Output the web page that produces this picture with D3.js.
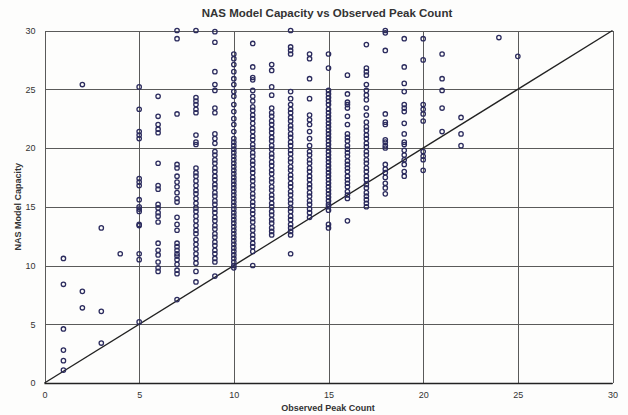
<!DOCTYPE html>
<html><head><meta charset="utf-8">
<script src="https://cdn.jsdelivr.net/npm/d3@7"></script>
<style>
html,body{margin:0;padding:0;background:#fff;}
svg{display:block;}
</style></head>
<body>
<svg id="chart" width="628" height="415"></svg>
<script>
const titleText = "NAS Model Capacity vs Observed Peak Count";
const xLabel = "Observed Peak Count";
const yLabel = "NAS Model Capacity";
const xTicks = [0, 5, 10, 15, 20, 25, 30];
const yTicks = [0, 5, 10, 15, 20, 25, 30];
const peakCounts = [1, 2, 3, 4, 5, 6, 7, 8, 9, 10, 11, 12, 13, 14, 15, 16, 17, 18, 19, 20, 21, 22, 24, 25];
const capacityByCount = [
  [10.6, 8.4, 4.6, 2.8, 1.9, 1.1],
  [25.4, 7.8, 6.4],
  [13.2, 6.1, 3.4],
  [11.0],
  [25.2, 23.3, 21.4, 21.1, 20.8, 17.4, 17.1, 16.8, 15.6, 15.0, 14.8, 14.6, 13.5, 13.4, 11.0, 10.5, 5.2],
  [24.4, 22.7, 22.0, 21.6, 21.3, 18.7, 16.8, 16.5, 15.2, 14.9, 14.5, 14.2, 13.7, 11.9, 11.3, 10.9, 10.3, 9.8, 9.5],
  [30.0, 29.3, 22.9, 18.6, 18.3, 17.6, 17.1, 16.7, 16.2, 15.7, 15.4, 14.1, 13.5, 13.0, 11.9, 11.6, 11.3, 11.0, 10.8, 10.5, 10.1, 9.6, 9.3, 7.1],
  [30.0, 24.3, 24.0, 23.7, 23.3, 23.0, 21.1, 20.5, 20.3, 18.3, 17.9, 17.6, 17.2, 16.8, 16.4, 16.1, 15.7, 15.3, 14.9, 14.6, 14.2, 13.8, 13.4, 13.0, 12.7, 12.2, 11.8, 11.4, 11.0, 10.6, 10.2, 9.5, 8.6],
  [29.9, 29.0, 26.5, 25.4, 24.9, 23.4, 23.0, 21.2, 20.8, 20.4, 19.7, 19.4, 19.0, 18.7, 18.3, 18.0, 17.6, 17.3, 16.9, 16.6, 16.2, 15.9, 15.5, 15.2, 14.8, 14.5, 14.1, 13.8, 13.4, 13.1, 12.7, 12.4, 12.0, 11.7, 11.3, 11.0, 10.6, 10.3, 9.1],
  [28.0, 27.6, 27.1, 26.5, 25.9, 25.4, 24.8, 24.4, 23.7, 23.1, 22.5, 22.0, 21.4, 20.8, 20.5, 20.2, 19.9, 19.6, 19.3, 19.0, 18.7, 18.4, 18.1, 17.8, 17.5, 17.2, 16.9, 16.6, 16.3, 16.0, 15.7, 15.4, 15.1, 14.8, 14.5, 14.2, 13.9, 13.6, 13.3, 13.0, 12.7, 12.4, 12.1, 11.8, 11.5, 11.2, 10.9, 10.6, 10.3, 10.0, 9.8],
  [28.9, 26.9, 26.0, 25.8, 24.9, 24.4, 24.0, 23.5, 23.2, 22.8, 22.5, 22.1, 21.7, 21.4, 21.0, 20.7, 20.3, 20.0, 19.6, 19.3, 18.9, 18.6, 18.2, 17.9, 17.5, 17.2, 16.8, 16.5, 16.1, 15.8, 15.4, 15.1, 14.7, 14.4, 14.0, 13.7, 13.3, 13.0, 12.6, 12.3, 11.9, 11.6, 11.2, 10.0],
  [27.1, 26.6, 25.2, 24.5, 23.4, 23.0, 22.7, 22.3, 22.0, 21.6, 21.3, 20.9, 20.6, 20.2, 19.9, 19.5, 19.2, 18.8, 18.5, 18.1, 17.8, 17.4, 17.1, 16.7, 16.4, 16.0, 15.7, 15.3, 15.0, 14.6, 14.3, 13.9, 13.6, 13.2, 12.9, 12.6],
  [30.0, 28.6, 28.3, 28.0, 24.8, 24.2, 23.7, 23.3, 23.0, 22.6, 22.3, 21.9, 21.6, 21.2, 20.9, 20.5, 20.2, 19.8, 19.5, 19.1, 18.8, 18.4, 18.1, 17.7, 17.4, 17.0, 16.7, 16.3, 16.0, 15.6, 15.3, 14.9, 14.6, 14.2, 13.9, 13.5, 13.2, 12.9, 12.6, 11.0],
  [28.0, 27.6, 25.9, 24.2, 22.8, 22.4, 22.0, 21.4, 20.8, 20.2, 19.7, 19.4, 19.0, 18.7, 18.3, 18.0, 17.6, 17.3, 16.9, 16.6, 16.2, 15.9, 15.5, 15.2, 14.8, 14.5, 14.1],
  [28.0, 26.8, 24.9, 24.6, 24.3, 24.0, 23.7, 23.3, 23.0, 22.7, 22.4, 22.1, 21.8, 21.5, 21.2, 20.9, 20.6, 20.3, 20.0, 19.7, 19.4, 19.1, 18.8, 18.5, 18.2, 17.9, 17.6, 17.3, 17.0, 16.7, 16.4, 16.1, 15.8, 15.5, 15.2, 15.0, 14.7, 13.5, 13.2],
  [26.2, 24.6, 23.9, 23.7, 23.4, 22.7, 22.0, 21.2, 20.9, 20.6, 20.2, 19.9, 19.6, 19.3, 18.9, 18.6, 18.3, 18.0, 17.6, 17.3, 17.0, 16.7, 16.3, 16.0, 15.7, 13.8],
  [28.8, 26.8, 26.5, 26.2, 25.4, 24.9, 24.5, 24.1, 23.4, 22.8, 22.2, 21.8, 21.5, 21.1, 20.8, 20.4, 20.1, 19.7, 19.4, 19.0, 18.7, 18.3, 18.0, 17.6, 17.3, 16.9, 16.6, 16.2, 15.9, 15.6, 15.3, 15.0],
  [30.0, 29.8, 28.3, 22.9, 22.2, 22.0, 20.7, 20.5, 20.2, 20.0, 18.6, 18.2, 17.9, 17.5, 17.0, 16.6, 16.1],
  [29.3, 26.9, 25.5, 24.8, 23.7, 23.4, 23.1, 22.1, 21.2, 20.5, 20.3, 19.8, 19.4, 19.0, 18.6, 18.0, 17.6],
  [29.3, 27.5, 23.7, 23.3, 22.9, 22.3, 19.7, 19.3, 19.0, 18.1],
  [28.0, 25.9, 24.9, 23.4, 21.4],
  [22.6, 21.2, 20.2],
  [29.4],
  [27.8]
];
const referenceLine = [[0, 0], [30, 30]];

const svg = d3.select("#chart");
const plotLeft = 44.5, plotRight = 612.5, plotTop = 30.5, plotBottom = 383;
const x = d3.scaleLinear().domain([0, 30]).range([plotLeft, plotRight]);
const y = d3.scaleLinear().domain([0, 30]).range([plotBottom, plotTop]);
const fontFam = "Liberation Sans, Arial, sans-serif";

svg.append("rect").attr("width", 628).attr("height", 415).attr("fill", "#fdfdfc");

// grid
const grid = svg.append("g").attr("stroke", "#5a5a5a").attr("stroke-width", 1).attr("shape-rendering", "crispEdges");
grid.selectAll("line.gx").data(xTicks).join("line")
  .attr("x1", d => Math.round(x(d)) + 0.5).attr("x2", d => Math.round(x(d)) + 0.5)
  .attr("y1", plotTop).attr("y2", plotBottom);
grid.selectAll("line.gy").data(yTicks).join("line")
  .attr("y1", d => Math.round(y(d)) + 0.5).attr("y2", d => Math.round(y(d)) + 0.5)
  .attr("x1", plotLeft).attr("x2", plotRight);

// bottom axis (darker)
svg.append("line").attr("x1", plotLeft).attr("x2", plotRight)
  .attr("y1", Math.round(y(0)) + 0.5).attr("y2", Math.round(y(0)) + 0.5)
  .attr("stroke", "#222").attr("stroke-width", 1.6);

const xAxis = d3.axisBottom(x).tickValues(xTicks).tickSize(0).tickPadding(9).tickFormat(d3.format("d"));
const gx = svg.append("g").attr("transform", `translate(0,${plotBottom})`).call(xAxis);
gx.select(".domain").remove();
gx.selectAll("text").attr("font-family", fontFam).attr("font-size", 9).attr("fill", "#333");

const yAxis = d3.axisLeft(y).tickValues(yTicks).tickSize(0).tickPadding(9).tickFormat(d3.format("d"));
const gy = svg.append("g").attr("transform", `translate(${plotLeft},0)`).call(yAxis);
gy.select(".domain").remove();
gy.selectAll("text").attr("font-family", fontFam).attr("font-size", 9).attr("fill", "#333");

// diagonal
svg.append("line")
  .attr("x1", x(referenceLine[0][0])).attr("y1", y(referenceLine[0][1]))
  .attr("x2", x(referenceLine[1][0])).attr("y2", y(referenceLine[1][1]))
  .attr("stroke", "#222").attr("stroke-width", 1.4);

// points
const pts = [];
peakCounts.forEach((c, i) => capacityByCount[i].forEach(v => pts.push([c, v])));
svg.append("g").selectAll("circle").data(pts).join("circle")
  .attr("cx", d => x(d[0])).attr("cy", d => y(d[1])).attr("r", 2.2)
  .attr("fill", "none").attr("stroke", "#2c2c5e").attr("stroke-width", 1.3);

// titles
svg.append("text").attr("x", 327).attr("y", 17).attr("text-anchor", "middle")
  .attr("font-family", fontFam).attr("font-size", 11.5).attr("font-weight", "bold")
  .attr("fill", "#333").text(titleText);
svg.append("text").attr("x", 328).attr("y", 411).attr("text-anchor", "middle")
  .attr("font-family", fontFam).attr("font-size", 9).attr("font-weight", "bold")
  .attr("fill", "#333").text(xLabel);
svg.append("text").attr("transform", `translate(21,${(plotTop + plotBottom) / 2}) rotate(-90)`).attr("text-anchor", "middle")
  .attr("font-family", fontFam).attr("font-size", 9).attr("font-weight", "bold")
  .attr("fill", "#333").text(yLabel);
</script>
</body></html>
